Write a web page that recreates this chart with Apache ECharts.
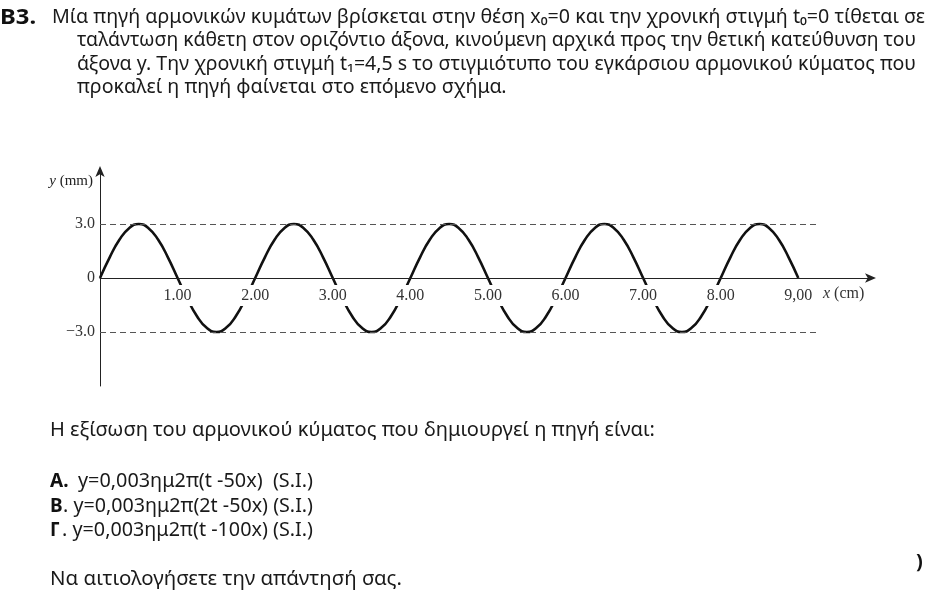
<!DOCTYPE html>
<html>
<head>
<meta charset="utf-8">
<script src="https://cdn.jsdelivr.net/npm/echarts@6/dist/echarts.min.js"></script>
<style>
html,body{margin:0;padding:0;background:#fff;}
#chart{width:931px;height:604px;}
</style>
</head>
<body>
<div id="chart"></div>
<script>
// ---- data ----
const waveX = [0,0.125,0.25,0.375,0.5,0.625,0.75,0.875,1,1.125,1.25,1.375,1.5,1.625,1.75,1.875,
  2,2.125,2.25,2.375,2.5,2.625,2.75,2.875,3,3.125,3.25,3.375,3.5,3.625,3.75,3.875,
  4,4.125,4.25,4.375,4.5,4.625,4.75,4.875,5,5.125,5.25,5.375,5.5,5.625,5.75,5.875,
  6,6.125,6.25,6.375,6.5,6.625,6.75,6.875,7,7.125,7.25,7.375,7.5,7.625,7.75,7.875,
  8,8.125,8.25,8.375,8.5,8.625,8.75,8.875,9];
const waveY = [0,1.15,2.12,2.77,3.0,2.77,2.12,1.15,0,-1.15,-2.12,-2.77,-3.0,-2.77,-2.12,-1.15,
  0,1.15,2.12,2.77,3.0,2.77,2.12,1.15,0,-1.15,-2.12,-2.77,-3.0,-2.77,-2.12,-1.15,
  0,1.15,2.12,2.77,3.0,2.77,2.12,1.15,0,-1.15,-2.12,-2.77,-3.0,-2.77,-2.12,-1.15,
  0,1.15,2.12,2.77,3.0,2.77,2.12,1.15,0,-1.15,-2.12,-2.77,-3.0,-2.77,-2.12,-1.15,
  0,1.15,2.12,2.77,3.0,2.77,2.12,1.15,0];
const xTickValues = [1,2,3,4,5,6,7,8,9];
const xTickLabels = ['1.00','2.00','3.00','4.00','5.00','6.00','7.00','8.00','9,00'];
const yTickValues = [-3,0,3];
const yTickLabels = ['\u22123.0','0','3.0'];
const dashedLevels = [3,-3];
const dashedEnd = 9.25;
const xAxisName = 'x';
const xAxisUnit = ' (cm)';
const yAxisName = 'y';
const yAxisUnit = ' (mm)';

const headLabel = 'B3.';
const paraLines = [
  'Μία πηγή αρμονικών κυμάτων βρίσκεται στην θέση x\u2080=0 και την χρονική στιγμή t\u2080=0 τίθεται σε',
  'ταλάντωση κάθετη στον οριζόντιο άξονα, κινούμενη αρχικά προς την θετική κατεύθυνση του',
  'άξονα y. Την χρονική στιγμή t\u2081=4,5 s το στιγμιότυπο του εγκάρσιου αρμονικού κύματος που',
  'προκαλεί η πηγή φαίνεται στο επόμενο σχήμα.'
];
const questionLine = 'Η εξίσωση του αρμονικού κύματος που δημιουργεί η πηγή είναι:';
const optionLetters = ['Α.', 'Β', 'Γ'];
const optionTexts = [
  'y=0,003ημ2π(t -50x)  (S.I.)',
  '. y=0,003ημ2π(2t -50x) (S.I.)',
  '. y=0,003ημ2π(t -100x) (S.I.)'
];
const closingLine = 'Να αιτιολογήσετε την απάντησή σας.';

// ---- helpers ----
const BODY_FONT = '"Noto Sans", "Open Sans", sans-serif';
const SERIF = '"Liberation Serif", "DejaVu Serif", serif';
const cv = document.createElement('canvas').getContext('2d');
function measure(text, size, weight, family) {
  cv.font = (weight || 'normal') + ' ' + size + 'px ' + family;
  return cv.measureText(text).width;
}
function bodyText(text, x, y, size, targetWidth, weight) {
  const w = measure(text, size, weight || 'normal', BODY_FONT);
  const s = targetWidth ? targetWidth / w : 1;
  return {
    type: 'text', x: x, y: y, scaleX: s, z: 10,
    style: { text: text, fontSize: size, fontFamily: BODY_FONT, fontWeight: weight || 'normal',
             fill: '#1a1a1a', align: 'left', verticalAlign: 'middle' }
  };
}

const FS = 19;
const paraScale = 873 / measure(paraLines[0], FS, 'normal', BODY_FONT);
const graphics = [];
graphics.push({ type: 'text', x: 0, y: 18, z: 10, scaleX: 1.08,
  style: { text: headLabel, fontSize: 22, fontWeight: 'bold', fontFamily: BODY_FONT, fill: '#111', verticalAlign: 'middle' } });
const paraY = [18, 41, 65, 88];
const paraX = [52, 77, 77, 77];
const paraEnd = [925, 916, 916, null];
paraLines.forEach((t, i) => {
  let e;
  if (paraEnd[i]) {
    e = bodyText(t, paraX[i], paraY[i], FS, paraEnd[i] - paraX[i]);
  } else {
    e = bodyText(t, paraX[i], paraY[i], FS);
    e.scaleX = paraScale;
  }
  graphics.push(e);
});
graphics.push(bodyText(questionLine, 50, 431, FS, 605));
const optY = [482, 507, 531];
optionLetters.forEach((l, i) => {
  graphics.push({ type: 'text', x: 50, y: optY[i], z: 10,
    style: { text: l, fontSize: FS, fontWeight: 'bold', fontFamily: BODY_FONT, fill: '#111', verticalAlign: 'middle' } });
});
const optX = [78, 63, 62];
optionTexts.forEach((t, i) => {
  graphics.push(bodyText(t, optX[i], optY[i], FS, 313 - optX[i]));
});
graphics.push(bodyText(closingLine, 50, 580, FS, 352));
graphics.push({ type: 'text', x: 916, y: 562, z: 10,
  style: { text: ')', fontSize: 20, fontWeight: 'bold', fontFamily: BODY_FONT, fill: '#111', verticalAlign: 'middle' } });

// axis names
graphics.push({ type: 'text', x: 93, y: 181, z: 10,
  style: { text: '{i|' + yAxisName + '}' + yAxisUnit, fontSize: 15, fontFamily: SERIF, fill: '#222',
           align: 'right', verticalAlign: 'middle',
           rich: { i: { fontStyle: 'italic', fontSize: 15, fontFamily: SERIF, fill: '#222' } } } });
graphics.push({ type: 'text', x: 823, y: 294, z: 10,
  style: { text: '{i|' + xAxisName + '}' + xAxisUnit, fontSize: 16, fontFamily: SERIF, fill: '#333',
           align: 'left', verticalAlign: 'middle',
           rich: { i: { fontStyle: 'italic', fontSize: 16, fontFamily: SERIF, fill: '#333' } } } });

const chart = echarts.init(document.getElementById('chart'), null, { renderer: 'canvas' });
const option = {
  animation: false,
  backgroundColor: '#fff',
  grid: { left: 100, top: 170, right: 59, bottom: 218, containLabel: false },
  xAxis: {
    type: 'value', min: 0, max: 9.95, interval: 1, z: 5,
    offset: -108,
    axisLine: { show: true, onZero: false, symbol: ['none', 'arrow'], symbolSize: [7, 11], symbolOffset: [0, 4],
                lineStyle: { color: '#222', width: 1 } },
    axisTick: { show: false },
    splitLine: { show: false },
    axisLabel: {
      margin: 7,
      formatter: function (v) {
        const k = xTickValues.indexOf(v);
        return k < 0 ? '' : '{b|' + xTickLabels[k] + '}';
      },
      rich: { b: { fontFamily: SERIF, fontSize: 16, color: '#333', backgroundColor: '#fff', padding: [3, 2, 2, 2] } }
    }
  },
  yAxis: {
    type: 'value', min: -6, max: 6, interval: 3,
    axisLine: { show: true, symbol: ['none', 'arrow'], symbolSize: [7, 11], symbolOffset: [0, 4],
                lineStyle: { color: '#222', width: 1 } },
    axisTick: { show: false },
    splitLine: { show: false },
    axisLabel: {
      margin: 5, fontFamily: SERIF, fontSize: 16, color: '#333',
      formatter: function (v) {
        const k = yTickValues.indexOf(v);
        return k < 0 ? '' : yTickLabels[k];
      }
    }
  },
  series: [{
    type: 'line',
    data: waveX.map((x, i) => [x, waveY[i]]),
    smooth: true,
    showSymbol: false,
    lineStyle: { color: '#111', width: 2.6 },
    markLine: {
      silent: true, symbol: 'none', label: { show: false },
      lineStyle: { color: '#555', type: [6, 4], width: 1.2 },
      data: dashedLevels.map(v => [{ coord: [0, v] }, { coord: [dashedEnd, v] }])
    }
  }],
  graphic: graphics
};
chart.setOption(option);
</script>
</body>
</html>
